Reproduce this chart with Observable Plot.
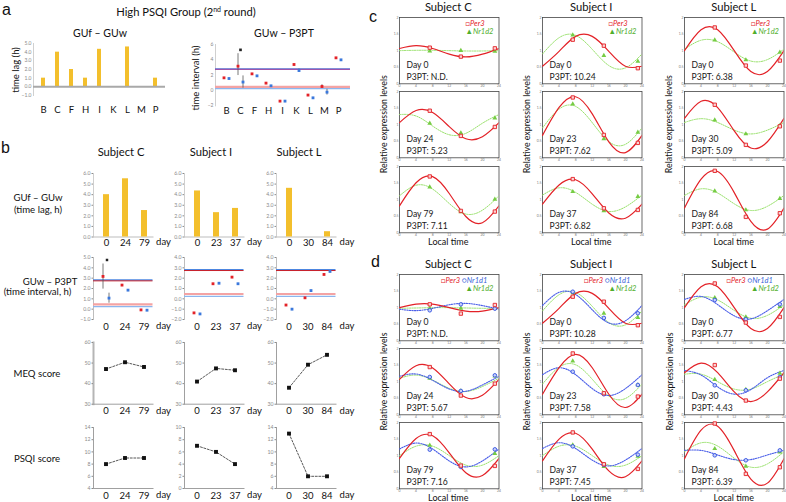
<!DOCTYPE html>
<html><head><meta charset="utf-8">
<script src="https://cdn.jsdelivr.net/npm/d3@7"></script>
<script src="https://cdn.jsdelivr.net/npm/@observablehq/plot@0.6"></script>
<style>
body{margin:0;background:#fff;}
#root{position:relative;width:786px;height:502px;overflow:hidden;background:#fff;font-family:Lato,'Open Sans',sans-serif;}
</style></head>
<body><div id="root"></div>
<script>
// ---------------- DATA ----------------
// Panel a
const aSubjects = ["B","C","F","H","I","K","L","M","P"];
const aTimeLag = [1, 4, 2, 1, 4.33, 0, 4.6, 0, 1];
const aIntervalRed = [1.65, 3.17, 2.17, 0.96, -1.39, 3.39, -0.6, 0.52, 4.26];
const aIntervalBlue = [1.56, 1.1, 1.91, 0.61, -1.39, 2.6, -0.96, -0.22, 4.0];
const aIntervalBlack = [["C", 5.3]];
const aErrRed = [["C", 1.95, 4.8], ["M", 0.3, 0.75]];
const aErrBlue = [["C", 0.3, 1.9], ["K", 2.45, 2.8], ["M", -0.6, 0.15]];
const upperBlue = 2.82, upperRed = 2.74, lowerRed = 0.47, lowerBlue = 0.24;

// Panel b
const bSubjects = ["Subject C", "Subject I", "Subject L"];
const bDays = [["0","24","79"], ["0","23","37"], ["0","30","84"]];
const bTimeLag = [[4.0, 5.5, 2.5], [4.35, 2.3, 2.7], [4.6, 0, 0.5]];
const bIntervalRed = [[3.17, 2.33, -0.07], [-1.36, 1.46, 2.1], [-0.6, 0.1, 2.36]];
const bIntervalBlue = [[1.07, 1.84, -0.1], [-1.46, 1.51, 1.46], [-1.0, 0.8, 2.65]];
const bIntervalBlack = [[0, "0", 4.76]];
const bErrRed = [[0, "0", 1.94, 4.37]];
const bErrBlue = [[0, "0", 0.58, 1.55]];
const bMEQ = [[47.1, 50.4, 48.1], [41, 47.4, 46.5], [38, 49.2, 54]];
const bPSQI = [[8, 9, 9], [7, 6, 4], [13, 6, 6]];
const bIntervalDomain = [[-1, 5], [-2, 4], [-2, 4]];
const bPSQIDomain = [[4, 14], [0, 10], [4, 14]];

// Panels c and d (order: C day0, C day24, C day79, I ..., L ...)
const exprSubjects = ["Subject C", "Subject I", "Subject L"];
const knotHours = [0, 4, 8, 12, 16, 20, 24];
const sampleHours = [7.3, 14.8, 23];
const dayLabels = ["Day 0","Day 24","Day 79","Day 0","Day 23","Day 37","Day 0","Day 30","Day 84"];
const cP3PT = ["N.D.","5.23","7.11","10.24","7.62","6.82","6.38","5.09","6.68"];
const dP3PT = ["N.D.","5.67","7.16","10.28","7.58","7.45","6.77","4.43","6.39"];

const cPer3Curve = [
  [1.065,1.15,1.065,0.895,0.81,0.895,1.065],
  [1.06,1.425,1.365,0.94,0.575,0.635,1.06],
  [0.814,1.509,1.695,1.186,0.491,0.305,0.814],
  [0.53,0.98,1.43,1.43,0.98,0.53,0.53],
  [0.675,1.518,1.842,1.325,0.482,0.158,0.675],
  [0.865,1.444,1.6,1.175,0.596,0.44,0.865],
  [1.0,1.632,1.632,1.0,0.368,0.368,1.0],
  [1.189,1.705,1.516,0.811,0.295,0.484,1.189],
  [0.747,1.616,1.849,1.213,0.344,0.111,0.747]];
const cNr1d2Curve = [
  [1.0,1.01,1.01,1.0,0.99,0.99,1.0],
  [1.305,1.26,0.957,0.695,0.738,1.043,1.305],
  [1.117,1.435,1.318,0.883,0.565,0.682,1.117],
  [0.9,1.39,1.46,1.04,0.55,0.48,0.9],
  [0.9,1.47,1.55,1.06,0.488,0.407,0.9],
  [1.138,1.357,1.219,0.862,0.643,0.781,1.138],
  [1.044,1.314,1.27,0.956,0.686,0.73,1.044],
  [1.065,1.18,1.065,0.835,0.72,0.835,1.065],
  [1.126,1.327,1.201,0.874,0.673,0.799,1.126]];
const cPer3Points = [[1.09,0.82,1.07],[1.42,0.66,0.93],[1.70,0.66,0.64],[1.33,1.15,0.47],[1.82,0.69,0.45],[1.62,0.74,0.69],[1.70,0.55,0.70],[1.6,0.39,0.95],[1.87,0.48,0.59]];
const cNr1d2Points = [[0.99,1.0,0.98],[1.04,0.75,1.2],[1.38,0.63,1.01],[1.47,0.85,0.68],[1.62,0.57,0.77],[1.24,0.66,1.09],[1.32,0.72,0.95],[1.14,0.72,0.97],[1.26,0.69,1.03]];

const dPer3Curve = [
  [1.0,1.104,1.104,1.0,0.896,0.896,1.0],
  [1.068,1.48,1.412,0.932,0.52,0.588,1.068],
  [0.915,1.515,1.6,1.085,0.485,0.4,0.915],
  [0.53,0.98,1.43,1.43,0.98,0.53,0.53],
  [0.62,1.42,1.82,1.42,0.62,0.22,0.62],
  [0.844,1.5,1.677,1.196,0.539,0.363,0.844],
  [1.0,1.632,1.632,1.0,0.368,0.368,1.0],
  [1.27,1.56,1.27,0.69,0.40,0.69,1.27],
  [0.909,1.767,1.889,1.151,0.293,0.171,0.909]];
const dNr1d1Curve = [
  [0.953,0.911,0.978,1.087,1.129,1.062,0.953],
  [1.161,1.231,1.04,0.779,0.709,0.9,1.161],
  [1.2,1.38,1.2,0.84,0.66,0.84,1.2],
  [1.065,1.462,1.397,0.935,0.538,0.603,1.065],
  [1.21,1.42,1.21,0.79,0.58,0.79,1.21],
  [1.215,1.39,1.215,0.865,0.69,0.865,1.215],
  [1.247,1.338,1.091,0.753,0.662,0.909,1.247],
  [1.337,1.199,0.842,0.623,0.761,1.118,1.337],
  [1.159,1.159,1.02,0.881,0.881,1.02,1.159]];
const dNr1d2Curve = [
  [0.98,0.99,1.0,1.0,0.99,0.98,0.98],
  [1.102,1.198,1.046,0.798,0.702,0.854,1.102],
  [1.0,1.286,1.286,1.0,0.714,0.714,1.0],
  [0.9,1.39,1.46,1.04,0.55,0.48,0.9],
  [0.928,1.436,1.508,1.072,0.564,0.492,0.928],
  [1.0,1.286,1.286,1.0,0.714,0.714,1.0],
  [1.085,1.319,1.233,0.915,0.681,0.767,1.085],
  [1.225,1.225,1.0,0.775,0.775,1.0,1.225],
  [1.118,1.387,1.289,0.922,0.653,0.751,1.118]];
const dPer3Points = [[1.1,0.82,1.08],[1.44,0.58,0.94],[1.65,0.7,0.69],[1.33,1.18,0.47],[1.85,0.65,0.55],[1.7,0.74,0.6],[1.73,0.55,0.72],[1.5,0.43,1.09],[1.97,0.45,0.65]];
const dNr1d1Points = [[0.92,1.1,0.97],[1.14,0.72,1.19],[1.18,0.66,1.19],[1.48,0.69,0.83],[1.3,0.62,0.9],[1.28,0.72,1.03],[1.23,0.65,1.1],[0.89,0.74,1.14],[1.01,0.86,1.16]];
const dNr1d2Points = [[0.98,0.98,0.97],[1.1,0.72,1.17],[1.31,0.67,1.06],[1.45,0.83,0.7],[1.62,0.64,0.9],[1.32,0.67,0.98],[1.3,0.72,1.03],[1.06,0.76,1.25],[1.21,0.68,1.11]];

// ---------------- STYLE / LAYOUT ----------------
const FONT = "Lato, 'Open Sans', sans-serif";
const RED = "#e32228", BLUE = "#3b78dc", GOLD = "#f3bf2c";
const GREEN_LINE = "#98e06a", GREEN_PT = "#76cc44", BLUE_LINE = "#4a5ee8";
const root = document.getElementById("root");
const baseStyle = {fontFamily: FONT, background: "none", overflow: "visible", color: "#111"};

function place(svg, left, top) {
  svg.style.position = "absolute";
  svg.style.left = left + "px";
  svg.style.top = top + "px";
  svg.style.maxWidth = "none";
  root.appendChild(svg);
}

// ---------- Panel a ----------
{
  const data = aSubjects.map((s, i) => ({s, v: aTimeLag[i]}));
  const ml = 8, mt = 3, mb = 20, mr = 2, pw = 132, ph = 52;
  place(Plot.plot({
    width: ml + pw + mr, height: mt + ph + mb,
    marginLeft: ml, marginRight: mr, marginTop: mt, marginBottom: mb,
    style: baseStyle,
    x: {type: "band", domain: aSubjects, paddingInner: 0.68, paddingOuter: 0.34, label: null},
    y: {domain: [-1, 5], label: null},
    marks: [
      Plot.frame({anchor: "left", stroke: "#d0d0d0"}),
      Plot.barY(data, {x: "s", y: "v", fill: GOLD}),
      Plot.ruleY([0], {stroke: "#a9a9a9", strokeWidth: 2}),
      Plot.axisY({ticks: d3.range(-1, 6), tickSize: 0, tickPadding: 2, fontSize: 5, color: "#888", label: null}),
      Plot.axisX({tickSize: 0, tickPadding: 11, fontSize: 9.5, color: "#111", label: null})
    ]
  }), 33 - ml, 43.3 - mt);
}
{
  const red = aSubjects.map((s, i) => ({s, v: aIntervalRed[i]}));
  const blue = aSubjects.map((s, i) => ({s, v: aIntervalBlue[i]}));
  const ml = 8, mt = 3, mb = 10, mr = 2, pw = 135, ph = 61.3;
  place(Plot.plot({
    width: ml + pw + mr, height: mt + ph + mb,
    marginLeft: ml, marginRight: mr, marginTop: mt, marginBottom: mb,
    style: baseStyle,
    x: {type: "band", domain: aSubjects, range: [ml + 1.7, ml + 133.1], padding: 0, label: null},
    y: {domain: [-2, 6], label: null},
    marks: [
      Plot.frame({anchor: "left", stroke: "#d0d0d0"}),
      Plot.ruleY([upperBlue], {stroke: "#5a6fd0", strokeWidth: 1.3}),
      Plot.ruleY([upperRed], {stroke: "#9a3a9a", strokeWidth: 0.8}),
      Plot.ruleY([lowerRed], {stroke: "#f4a3a3", strokeWidth: 2.2}),
      Plot.ruleY([lowerBlue], {stroke: "#8cb6ee", strokeWidth: 1.3}),
      Plot.ruleX(aErrRed, {x: d => d[0], y1: d => d[1], y2: d => d[2], dx: -2.5, stroke: "#555", strokeWidth: 0.8}),
      Plot.ruleX(aErrBlue, {x: d => d[0], y1: d => d[1], y2: d => d[2], dx: 2.5, stroke: "#555", strokeWidth: 0.8}),
      Plot.dot(red, {x: "s", y: "v", dx: -2.5, symbol: "square", r: 1.6, fill: RED}),
      Plot.dot(blue, {x: "s", y: "v", dx: 2.5, symbol: "square", r: 1.6, fill: BLUE}),
      Plot.dot(aIntervalBlack, {x: d => d[0], y: d => d[1], symbol: "square", r: 1.5, fill: "#222"}),
      Plot.axisY({ticks: [-2, 0, 2, 4, 6], tickSize: 0, tickPadding: 2, fontSize: 5, color: "#888", label: null}),
      Plot.axisX({tickSize: 0, tickPadding: 1.3, fontSize: 9.5, color: "#111", label: null})
    ]
  }), 215 - ml, 44 - mt);
}

// ---------- Panel b ----------
const bCols = [105, 196, 288.5];
function bCell(ci, top, bottom, yDomain, yTicks, marks, opts = {}) {
  const c0 = bCols[ci];
  const ml = 12, mr = 4, mt = 3, mb = 14;
  const L = c0 - 12.5, pw = 59.5;
  place(Plot.plot({
    width: ml + pw + mr, height: mt + (bottom - top) + mb,
    marginLeft: ml, marginRight: mr, marginTop: mt, marginBottom: mb,
    style: baseStyle,
    x: {type: "band", domain: bDays[ci], range: [ml + 3, ml + 60],
        paddingInner: opts.pi ?? 0, paddingOuter: opts.po ?? 0, label: null},
    y: {domain: yDomain, label: null},
    marks: [
      ...marks,
      Plot.axisY({ticks: yTicks, tickSize: 1.5, tickPadding: 1.5, fontSize: 5.2, color: "#8a8a8a", label: null}),
      Plot.axisX({tickSize: 0, tickPadding: opts.pad ?? 3.4, fontSize: 9.5, color: "#111", label: null})
    ]
  }), L - ml, top - mt);
}
for (let ci = 0; ci < 3; ci++) {
  const days = bDays[ci];
  // row 1 bars
  bCell(ci, 172.5, 236, [0, 6], d3.range(0, 7), [
    Plot.frame({anchor: "left", stroke: "#cfcfcf"}),
    Plot.frame({anchor: "bottom", stroke: "#bdbdbd"}),
    Plot.barY(days.map((d, i) => ({d, v: bTimeLag[ci][i]})), {x: "d", y: "v", fill: GOLD})
  ], {pi: 0.71, po: 0.355, pad: 2.4});
  // row 2 intervals
  const red = days.map((d, i) => ({d, v: bIntervalRed[ci][i]}));
  const blue = days.map((d, i) => ({d, v: bIntervalBlue[ci][i]}));
  const dom = bIntervalDomain[ci];
  bCell(ci, 257, 319, dom, d3.range(dom[0], dom[1] + 1), [
    Plot.frame({anchor: "left", stroke: "#bdbdbd"}),
    Plot.ruleY([upperBlue], {stroke: "#4d86e0", strokeWidth: 1.6}),
    Plot.ruleY([upperRed], {stroke: "#c8202a", strokeWidth: 1}),
    Plot.ruleY([lowerRed], {stroke: "#f4a3a3", strokeWidth: 2.2}),
    Plot.ruleY([lowerBlue], {stroke: "#8cb6ee", strokeWidth: 1.2}),
    Plot.ruleX(bErrRed.filter(e => e[0] === ci), {x: e => e[1], y1: e => e[2], y2: e => e[3], dx: -3, stroke: "#555", strokeWidth: 0.8}),
    Plot.ruleX(bErrBlue.filter(e => e[0] === ci), {x: e => e[1], y1: e => e[2], y2: e => e[3], dx: 3, stroke: "#555", strokeWidth: 0.8}),
    Plot.dot(red, {x: "d", y: "v", dx: -3, symbol: "square", r: 1.6, fill: RED}),
    Plot.dot(blue, {x: "d", y: "v", dx: 3, symbol: "square", r: 1.6, fill: BLUE}),
    Plot.dot(bIntervalBlack.filter(e => e[0] === ci), {x: e => e[1], y: e => e[2], dx: 1, symbol: "square", r: 1.4, fill: "#222"})
  ]);
  // row 3 MEQ
  bCell(ci, 342.3, 404, [30, 60], [30, 40, 50, 60], [
    Plot.frame({anchor: "left", stroke: ci === 0 ? "#b5b5b5" : "#a0a0a0", strokeWidth: ci === 0 ? 2 : 1}),
    Plot.frame({anchor: "bottom", stroke: "#a0a0a0"}),
    Plot.line(days.map((d, i) => ({d, v: bMEQ[ci][i]})), {x: "d", y: "v", stroke: "#444", strokeWidth: 0.9, strokeDasharray: "2,1.6"}),
    Plot.dot(days.map((d, i) => ({d, v: bMEQ[ci][i]})), {x: "d", y: "v", symbol: "square", r: 2.2, fill: "#111"})
  ]);
  // row 4 PSQI
  const pd = bPSQIDomain[ci];
  bCell(ci, 427.3, 488.3, pd, d3.range(pd[0], pd[1] + 1, 2), [
    Plot.frame({anchor: "left", stroke: "#a0a0a0"}),
    Plot.frame({anchor: "bottom", stroke: "#a0a0a0"}),
    Plot.line(days.map((d, i) => ({d, v: bPSQI[ci][i]})), {x: "d", y: "v", stroke: "#444", strokeWidth: 0.9, strokeDasharray: "2,1.6"}),
    Plot.dot(days.map((d, i) => ({d, v: bPSQI[ci][i]})), {x: "d", y: "v", symbol: "square", r: 2.2, fill: "#111"})
  ]);
}

// ---------- Panels c and d ----------
const colLeft = [398.5, 541.5, 684];
const cTops = [16.7, 91, 165.5];
const dTops = [274.3, 348.3, 422.3];
const PW = 99.5, PH = 66.3;
function curveData(vals) { return knotHours.map((t, i) => ({t, v: vals[i]})); }
function pointData(vals) { return sampleHours.map((t, i) => ({t, v: vals[i]})); }
function exprPanel(left, top, k, series, p3pt) {
  const ml = 6, mr = 1, mt = 1, mb = 5;
  const marks = [
    Plot.frame({stroke: "#444", strokeWidth: 0.8}),
    Plot.axisY({ticks: [0, 0.5, 1, 1.5, 2], tickFormat: d => String(d), tickSize: 0, tickPadding: 1, fontSize: 3.4, color: "#777", label: null}),
    Plot.axisX({ticks: knotHours, tickFormat: d => String(d), tickSize: 0, tickPadding: 0.6, fontSize: 3.4, color: "#777", label: null})
  ];
  for (const s of series) {
    marks.push(Plot.line(curveData(s.curve[k]), {x: "t", y: "v", curve: "natural", clip: true,
      stroke: s.line, strokeWidth: s.width, strokeDasharray: s.dash}));
  }
  for (const s of series) {
    marks.push(Plot.dot(pointData(s.points[k]), {x: "t", y: "v", symbol: s.symbol, r: s.r,
      fill: s.fill, stroke: s.stroke, strokeWidth: 0.9}));
  }
  marks.push(Plot.text([dayLabels[k]], {text: d => d, frameAnchor: "top-left", dx: 7, dy: 51, textAnchor: "start", lineAnchor: "bottom", fontSize: 8.6, fill: "#1a1a1a"}));
  marks.push(Plot.text(["P3PT: " + p3pt[k]], {text: d => d, frameAnchor: "top-left", dx: 7, dy: 63, textAnchor: "start", lineAnchor: "bottom", fontSize: 8.6, fill: "#1a1a1a"}));
  place(Plot.plot({
    width: ml + PW + mr, height: mt + PH + mb,
    marginLeft: ml, marginRight: mr, marginTop: mt, marginBottom: mb,
    style: baseStyle,
    x: {domain: [0, 24], label: null},
    y: {domain: [0, 2], label: null},
    marks
  }), left - ml, top - mt);
}
const per3C = {curve: cPer3Curve, points: cPer3Points, line: RED, width: 1.2, dash: null, symbol: "square", r: 1.9, fill: "#fbd3d3", stroke: RED};
const nr2C = {curve: cNr1d2Curve, points: cNr1d2Points, line: GREEN_LINE, width: 1, dash: "1.3,1.2", symbol: "triangle", r: 1.8, fill: GREEN_PT, stroke: "none"};
const per3D = {curve: dPer3Curve, points: dPer3Points, line: RED, width: 1.2, dash: null, symbol: "square", r: 1.9, fill: "#fbd3d3", stroke: RED};
const nr1D = {curve: dNr1d1Curve, points: dNr1d1Points, line: BLUE_LINE, width: 1.1, dash: "1.3,1.2", symbol: "circle", r: 1.8, fill: "#c9d0fa", stroke: "#3050e0"};
const nr2D = {curve: dNr1d2Curve, points: dNr1d2Points, line: GREEN_LINE, width: 1, dash: "1.3,1.2", symbol: "triangle", r: 1.8, fill: GREEN_PT, stroke: "none"};
for (let col = 0; col < 3; col++) {
  for (let row = 0; row < 3; row++) {
    const k = col * 3 + row;
    exprPanel(colLeft[col], cTops[row], k, [nr2C, per3C], cP3PT);
    exprPanel(colLeft[col], dTops[row], k, [nr2D, nr1D, per3D], dP3PT);
  }
}

// ---------- Text overlay ----------
const ov = d3.select(root).append("svg")
  .attr("width", 786).attr("height", 502)
  .style("position", "absolute").style("left", 0).style("top", 0)
  .style("font-family", FONT).style("pointer-events", "none");
function label(txt, x, y, o = {}) {
  const t = ov.append("text").attr("x", x).attr("y", y)
    .attr("text-anchor", o.anchor || "middle")
    .attr("font-size", o.size || 10)
    .attr("fill", o.fill || "#111");
  if (o.family) t.attr("font-family", o.family);
  if (o.rotate) t.attr("transform", `rotate(${o.rotate},${x},${y})`);
  t.text(txt);
  return t;
}
const LETTER = "'Liberation Sans', Arial, sans-serif";
label("a", 2, 15, {anchor: "start", size: 16, family: LETTER});
label("b", 1, 153, {anchor: "start", size: 16, family: LETTER});
label("c", 369, 22, {anchor: "start", size: 16, family: LETTER});
label("d", 371, 267, {anchor: "start", size: 16, family: LETTER});
{
  const t = label("High PSQI Group (2", 186, 16, {size: 11.2});
  t.append("tspan").attr("font-size", 7).attr("dy", -4).text("nd");
  t.append("tspan").attr("dy", 4).text(" round)");
}
label("GUf \u2013 GUw", 100, 37, {size: 10.5});
label("GUw \u2013 P3PT", 284, 37, {size: 10.5});
label("time lag (h)", 19, 70, {size: 9.5, rotate: -90});
label("time interval (h)", 199, 78, {size: 9.5, rotate: -90});
const bTitleX = [121, 211, 299];
bSubjects.forEach((s, i) => label(s, bTitleX[i], 156, {size: 11.2}));
label("GUf \u2013 GUw", 38, 201, {size: 9.6});
label("(time lag, h)", 38, 212.5, {size: 9.6});
label("GUw \u2013 P3PT", 50, 284.5, {size: 9.6});
label("(time interval, h)", 37.5, 295, {size: 9.6});
label("MEQ score", 37, 376.5, {size: 9.6});
label("PSQI score", 37, 462, {size: 9.6});
const dayBase = [245.1, 329.1, 414.1, 498.4];
bCols.forEach(c0 => dayBase.forEach(y => label("day", c0 + 58.5, y, {size: 9.5})));
colLeft.forEach((l, i) => {
  const cx = l + PW / 2;
  label(exprSubjects[i], cx, 11, {size: 11.2});
  label(exprSubjects[i], cx, 268, {size: 11.2});
  label("Local time", cx, 245, {size: 9});
  label("Local time", cx, 501, {size: 9});
  label("Relative expression levels", l - 11.5, 124.2, {size: 8.8, rotate: -90});
  label("Relative expression levels", l - 11.5, 381.5, {size: 8.8, rotate: -90});
  const r = l + PW;
  const c1 = ov.append("text").attr("x", r - 32.5).attr("y", 16.7 + 8.8).attr("font-size", 7.5).attr("fill", RED);
  c1.append("tspan").text("\u25A1");
  c1.append("tspan").attr("font-style", "italic").text("Per3");
  const c2 = ov.append("text").attr("x", r - 32.5).attr("y", 16.7 + 16.8).attr("font-size", 7.5).attr("fill", "#4fae2c");
  c2.append("tspan").text("\u25B2");
  c2.append("tspan").attr("font-style", "italic").text("Nr1d2");
  const d1 = ov.append("text").attr("x", r - 57).attr("y", 274.3 + 8.7).attr("font-size", 7.5);
  d1.append("tspan").attr("fill", RED).text("\u25A1");
  d1.append("tspan").attr("fill", RED).attr("font-style", "italic").text("Per3 ");
  d1.append("tspan").attr("fill", "#3a66d8").text("\u25CB");
  d1.append("tspan").attr("fill", "#3a66d8").attr("font-style", "italic").text("Nr1d1");
  const d2 = ov.append("text").attr("x", r - 32.5).attr("y", 274.3 + 16.2).attr("font-size", 7.5).attr("fill", "#4fae2c");
  d2.append("tspan").text("\u25B2");
  d2.append("tspan").attr("font-style", "italic").text("Nr1d2");
});
</script>
</body></html>
